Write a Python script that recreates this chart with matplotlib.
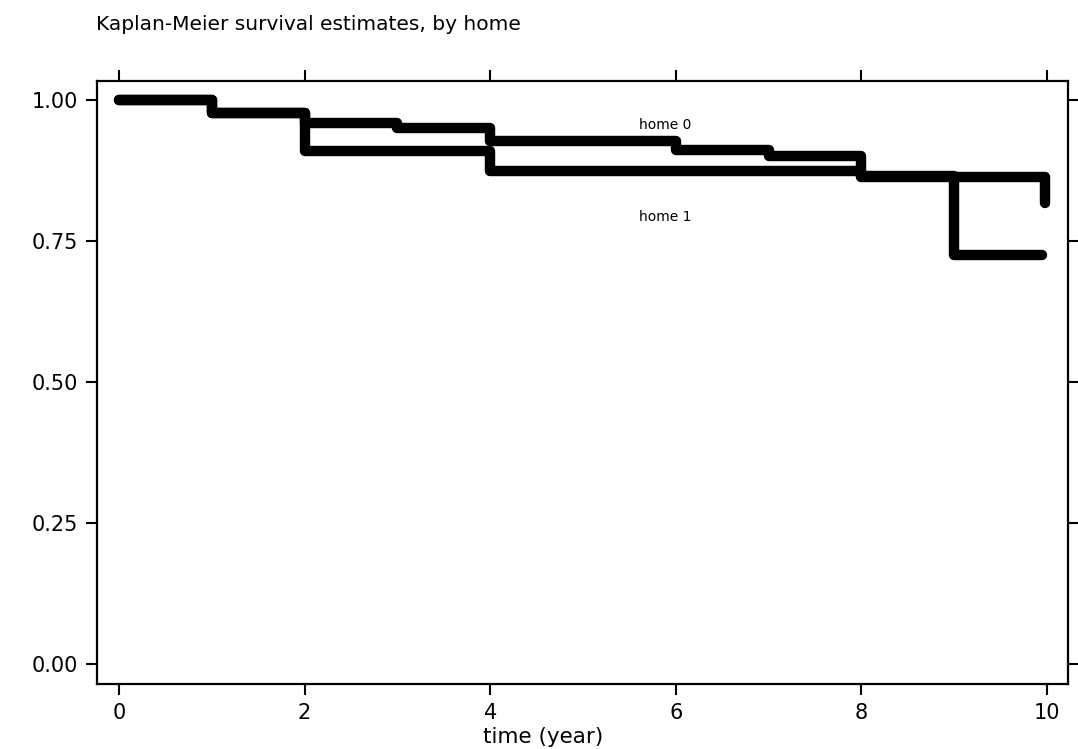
import matplotlib
matplotlib.use('Agg')  # Use non-interactive backend
import matplotlib.pyplot as plt

# Kaplan-Meier step values
home0_time = [0.0, 1.0, 2.0, 3.0, 4.0, 6.0, 7.0, 8.0, 9.98]
home0_surv = [1.000, 0.977, 0.959, 0.950, 0.927, 0.912, 0.900, 0.864, 0.817]

home1_time = [0.0, 1.0, 2.0, 4.0, 8.0, 9.0, 9.95]
home1_surv = [1.000, 0.977, 0.910, 0.875, 0.866, 0.725, 0.725]

x_ticks = [0, 2, 4, 6, 8, 10]
y_ticks = [0.00, 0.25, 0.50, 0.75, 1.00]
y_tick_labels = ['0.00', '0.25', '0.50', '0.75', '1.00']

fig = plt.figure(figsize=(10.78, 7.49), dpi=100)
ax = fig.add_axes([0.090, 0.087, 0.901, 0.805])

line_kw = dict(color='black', linewidth=7.5, solid_capstyle='round', solid_joinstyle='round')
ax.step(home1_time, home1_surv, where='post', **line_kw)
ax.step(home0_time, home0_surv, where='post', **line_kw)

ax.text(5.6, 0.956, 'home 0', fontsize=10, va='center', ha='left')
ax.text(5.6, 0.793, 'home 1', fontsize=10, va='center', ha='left')

ax.set_xlim(-0.237, 10.23)
ax.set_ylim(-0.035, 1.034)
ax.set_xticks(x_ticks)
ax.set_yticks(y_ticks)
ax.set_yticklabels(y_tick_labels)

for side in ['left', 'right', 'top', 'bottom']:
    ax.spines[side].set_linewidth(1.6)
ax.tick_params(axis='both', direction='out', length=8, width=1.5, labelsize=15,
               top=True, right=True, labeltop=False, labelright=False, pad=6)

fig.text(543 / 1078, 1 - 737 / 749, 'time (year)', fontsize=15.5, ha='center', va='center')
fig.text(96 / 1078, 1 - 25 / 749, 'Kaplan-Meier survival estimates, by home',
         fontsize=14.5, ha='left', va='center')

plt.savefig('out.png', dpi=100, facecolor='white')
plt.close()
